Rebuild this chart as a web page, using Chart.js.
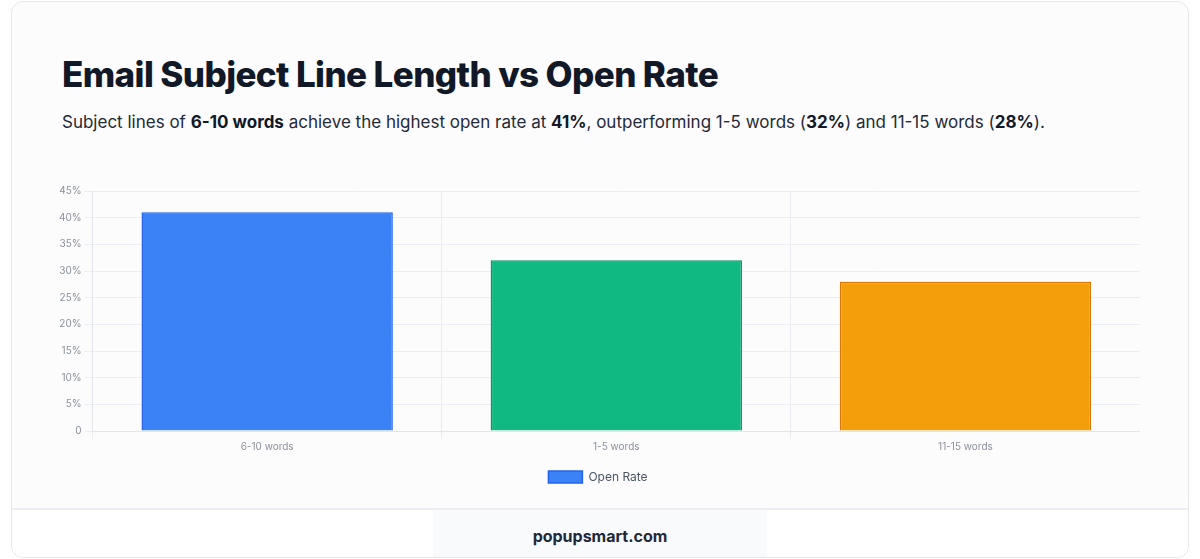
<!DOCTYPE html>
<html>
<head>
<meta charset="utf-8">
<script src="https://cdn.jsdelivr.net/npm/chart.js@4"></script>
<style>
  html, body { margin: 0; padding: 0; background: #ffffff; font-family: Inter, "Noto Sans", sans-serif; }
  .card {
    position: absolute; left: 11px; top: 1px; width: 1176px; height: 555px;
    border: 1px solid #e5e7eb; border-radius: 12px; background: #fcfcfd; overflow: hidden;
  }
  h1 {
    position: absolute; left: 50px; top: 48px; margin: 0;
    font-size: 35px; font-weight: 800; color: #111827; letter-spacing: -0.6px; line-height: 48px;
  }
  .sub {
    position: absolute; left: 50px; top: 108px; margin: 0;
    font-size: 17px; color: #1f2937; line-height: 24px;
  }
  .sub b { font-weight: 700; color: #111827; }
  .chart-box { position: absolute; left: 44px; top: 180px; width: 1084px; height: 311px; }
  .footer {
    position: absolute; left: 0; top: 506px; width: 1176px; height: 49px;
    border-top: 2px solid #eceef1; background: #ffffff;
  }
  .footer .brand {
    position: absolute; left: 421px; top: 0; width: 334px; height: 49px; background: #f8fafc;
    text-align: center; line-height: 52px; font-size: 16px; font-weight: 700; color: #1f2937;
  }
</style>
</head>
<body>
<div class="card">
  <h1>Email Subject Line Length vs Open Rate</h1>
  <p class="sub">Subject lines of <b>6-10 words</b> achieve the highest open rate at <b>41%</b>, outperforming 1-5 words (<b>32%</b>) and 11-15 words (<b>28%</b>).</p>
  <div class="chart-box"><canvas id="openRateChart"></canvas></div>
  <div class="footer"><div class="brand">popupsmart.com</div></div>
</div>
<script>
// Chart values
const categories = ['6-10 words', '1-5 words', '11-15 words'];
const openRates = [41, 32, 28];
const barColors = ['#3b82f6', '#10b981', '#f59e0b'];
const barBorders = ['#2563eb', '#059669', '#d97706'];
const yMax = 45;
const yStep = 5;

const ctx = document.getElementById('openRateChart');
new Chart(ctx, {
    type: 'bar',
    data: {
        labels: categories,
        datasets: [{
            label: 'Open Rate',
            data: openRates,
            backgroundColor: barColors,
            borderColor: barBorders,
            borderWidth: 1.5
        }]
    },
    options: {
        responsive: true,
        maintainAspectRatio: false,
        animation: false,
        layout: { padding: 0 },
        scales: {
            x: {
                grid: { color: '#ebedf0', tickLength: 8 },
                border: { color: '#e3e5e8' },
                ticks: { color: '#8b9099', font: { family: 'Inter', size: 10 }, padding: 2 }
            },
            y: {
                beginAtZero: true,
                max: yMax,
                grid: { color: '#ebedf0', tickLength: 8 },
                border: { color: '#e3e5e8' },
                ticks: {
                    stepSize: yStep,
                    color: '#8b9099',
                    font: { family: 'Inter', size: 10 },
                    padding: 3,
                    callback: v => v === 0 ? '0' : v + '%'
                }
            }
        },
        plugins: {
            legend: {
                display: true,
                position: 'bottom',
                labels: {
                    color: '#4b5563',
                    font: { family: 'Inter', size: 12 },
                    boxWidth: 34,
                    boxHeight: 12,
                    padding: 16,
                    generateLabels: chart => [{
                        text: 'Open Rate',
                        fillStyle: barColors[0],
                        strokeStyle: barBorders[0],
                        lineWidth: 1.5,
                        fontColor: '#4b5563',
                        datasetIndex: 0
                    }]
                }
            },
            tooltip: { enabled: true }
        }
    }
});
</script>
</body>
</html>
